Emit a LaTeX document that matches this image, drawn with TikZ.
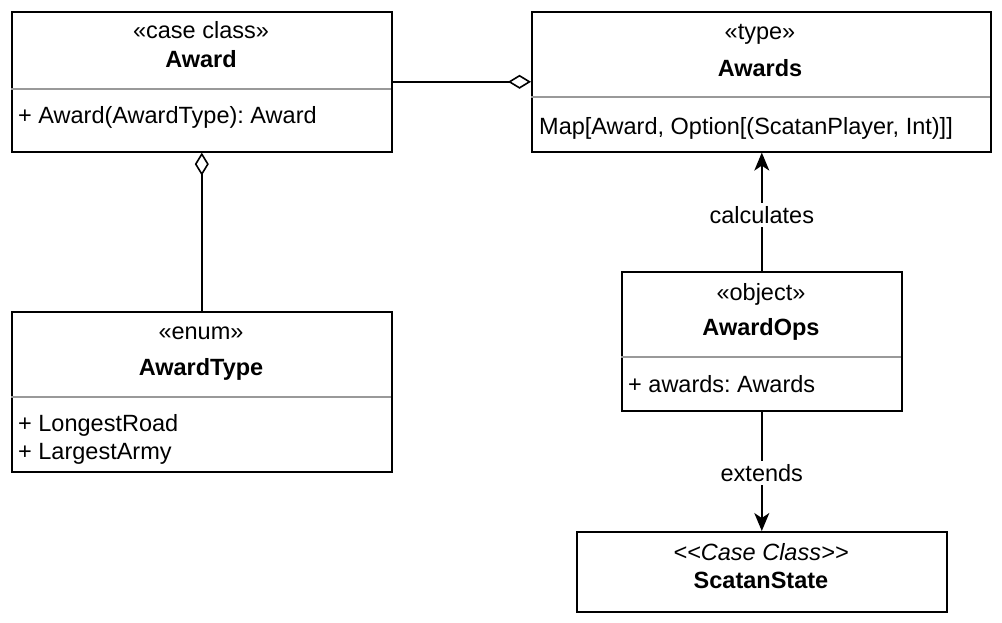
\documentclass[tikz,border=0pt]{standalone}
\usepackage{fontspec}
\setmainfont{Liberation Sans}
\usetikzlibrary{arrows.meta}
\begin{document}
\frenchspacing
\begin{tikzpicture}[x=1pt,y=-1pt,
  box/.style={draw, line width=1.6pt, inner sep=0pt, anchor=north west},
  sep/.style={draw=black!40, line width=1.4pt},
  txt/.style={inner sep=0pt, anchor=mid, yshift=-5pt, font=\fontsize{23.5}{28}\selectfont},
  ltxt/.style={txt, anchor=mid west},
  btxt/.style={txt, font=\fontsize{23.5}{28}\selectfont\bfseries},
  conn/.style={line width=1.6pt},
  arr/.style={conn, -{Stealth[length=18pt,width=15pt,inset=5pt]}},
  agg/.style={conn, {Diamond[open,length=23pt,width=14pt,line width=1.6pt]}-},
  lbl/.style={txt, fill=white, inner sep=3pt}]
\useasboundingbox (0,0) rectangle (1002,622);

% boxes
\node[box, minimum width=380pt, minimum height=140pt] (award) at (11,11) {};
\node[box, minimum width=459pt, minimum height=140pt] (awards) at (531,11) {};
\node[box, minimum width=380pt, minimum height=160pt] (awardtype) at (11,311) {};
\node[box, minimum width=280pt, minimum height=139pt] (awardops) at (621,271) {};
\node[box, minimum width=370pt, minimum height=80pt] (state) at (576,531) {};

% separators
\draw[sep] (11,89) -- (391,89);
\draw[sep] (531,97) -- (990,97);
\draw[sep] (11,397) -- (391,397);
\draw[sep] (621,357) -- (901,357);

% texts
\node[txt] (t1) at (201,31) {«case class»};
\node[btxt] (t2) at (201,60) {Award};
\node[ltxt] (t3) at (18,116) {+ Award(AwardType): Award};

\node[txt] (t4) at (760,32) {«type»};
\node[btxt] (t5) at (760,69) {Awards};
\node[ltxt] (t6) at (539,127) {Map[Award, Option[(ScatanPlayer, Int)]]};

\node[txt] (t7) at (201,332) {«enum»};
\node[btxt] (t8) at (201,368) {AwardType};
\node[ltxt] (t9) at (18,424) {+ LongestRoad};
\node[ltxt] (t10) at (18,452) {+ LargestArmy};

\node[txt] (t11) at (761,293) {«object»};
\node[btxt] (t12) at (761,328) {AwardOps};
\node[ltxt] (t13) at (628,385) {+ awards: Awards};

\node[txt] (t14) at (761,553) {\itshape <\kern0pt<Case Class>\kern0pt>};
\node[btxt] (t15) at (761,581) {ScatanState};

% connectors
\draw[agg] (awards.west) -- (award.east);
\draw[agg] (award.south) -- (awardtype.north);
\draw[arr] (awardops.north) -- node[lbl, pos=0.467] (l1) {calculates} (awards.south -| awardops.north);
\draw[arr] (awardops.south) -- node[lbl, pos=0.52] (l2) {extends} (state.north);
\end{tikzpicture}
\end{document}
